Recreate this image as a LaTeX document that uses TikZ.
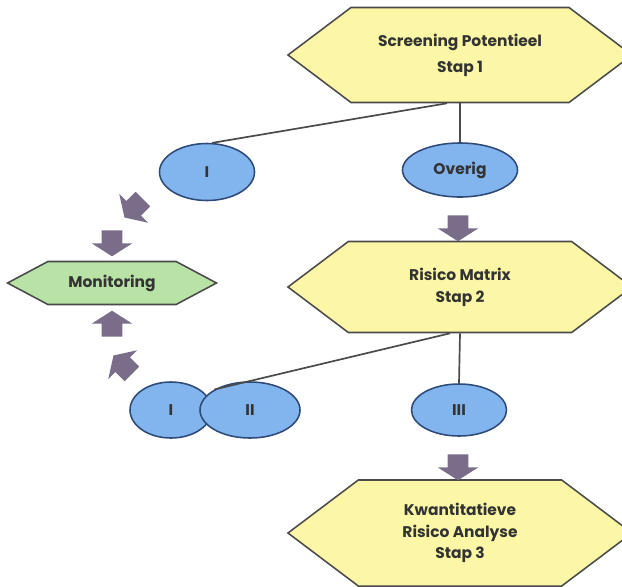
\documentclass[tikz,border=0pt]{standalone}
\usepackage{fontspec}
\setmainfont{Poppins}
\usepackage{tikz}
\usetikzlibrary{shapes,arrows,positioning,calc}
\usepackage{xcolor}
\definecolor{hexyellow}{HTML}{FBF7A6}
\definecolor{hexgreen}{HTML}{B9E2A6}
\definecolor{ovalblue}{HTML}{82B4EE}
\definecolor{ovalline}{HTML}{2E4A78}
\definecolor{arrowgray}{HTML}{7A6D8A}
\definecolor{linegray}{HTML}{4A4A4A}
\definecolor{txtgray}{HTML}{333333}

\begin{document}
\begin{tikzpicture}[x=0.025cm,y=-0.025cm,
    stepbox/.style={signal,signal to=east and west,signal pointer angle=74,draw=linegray,line width=1.1pt,fill=hexyellow,minimum width=8.6cm,inner sep=0pt,align=center,text=txtgray,font=\bfseries\fontsize{11}{15.5}\selectfont},
    monbox/.style={signal,signal to=east and west,signal pointer angle=56,draw=linegray,line width=1.1pt,fill=hexgreen,minimum width=5.225cm,minimum height=1.075cm,inner sep=0pt,text=txtgray,font=\bfseries\fontsize{11}{13}\selectfont},
    oval/.style={ellipse,draw=ovalline,line width=1.1pt,fill=ovalblue,inner sep=0pt,text=txtgray,font=\bfseries\fontsize{11}{13}\selectfont},
    flowarrow/.style={single arrow,fill=arrowgray,draw=none,minimum height=0.65cm,inner xsep=0pt,inner ysep=0.25cm,single arrow head extend=0.25cm,single arrow tip angle=115},
    linkline/.style={draw=linegray,line width=1.2pt}]
    \clip (0,0) rectangle (622,586);

    % Steps
    \node[stepbox,minimum height=2.375cm] (stap1) at (460,55) {Screening Potentieel\\[3pt]Stap 1};
    \node[stepbox,minimum height=2.275cm] (stap2) at (460,287) {Risico Matrix\\Stap 2};
    \node[stepbox,minimum height=2.65cm] (stap3) at (460,533) {Kwantitatieve\\Risico Analyse\\Stap 3};
    \node[monbox] (monitoring) at (112,283) {Monitoring};

    % Classes
    \node[oval,minimum width=2.375cm,minimum height=1.425cm] (topI) at (207,172) {I};
    \node[oval,minimum width=2.875cm,minimum height=1.35cm] (overig) at (460,170) {Overig};
    \node[oval,minimum width=2.05cm,minimum height=1.4cm] (lowI) at (171,410) {I};
    \node[oval,minimum width=2.5cm,minimum height=1.4cm] (lowII) at (250,410) {II};
    \node[oval,minimum width=2.375cm,minimum height=1.3cm] (lowIII) at (459,410) {III};

    % Lines
    \draw[linkline] (stap1.south) -- (overig.north);
    \draw[linkline] (stap1.-105) -- (topI.80);
    \draw[linkline] (stap2.south) -- (lowIII.north);
    \draw[linkline] (stap2.-102) -- (lowII.150);

    % Block arrows
    \node[flowarrow,rotate=-90] (arrOverig) at (458,225) {};
    \node[flowarrow,rotate=-90] (arrIII) at (458,464) {};
    \node[flowarrow,rotate=-135] (arrTopDiag) at (136,206) {};
    \node[flowarrow,rotate=-90] (arrTopDown) at (112,240) {};
    \node[flowarrow,rotate=90] (arrLowUp) at (112,327) {};
    \node[flowarrow,rotate=135] (arrLowDiag) at (125,367) {};
\end{tikzpicture}
\end{document}
